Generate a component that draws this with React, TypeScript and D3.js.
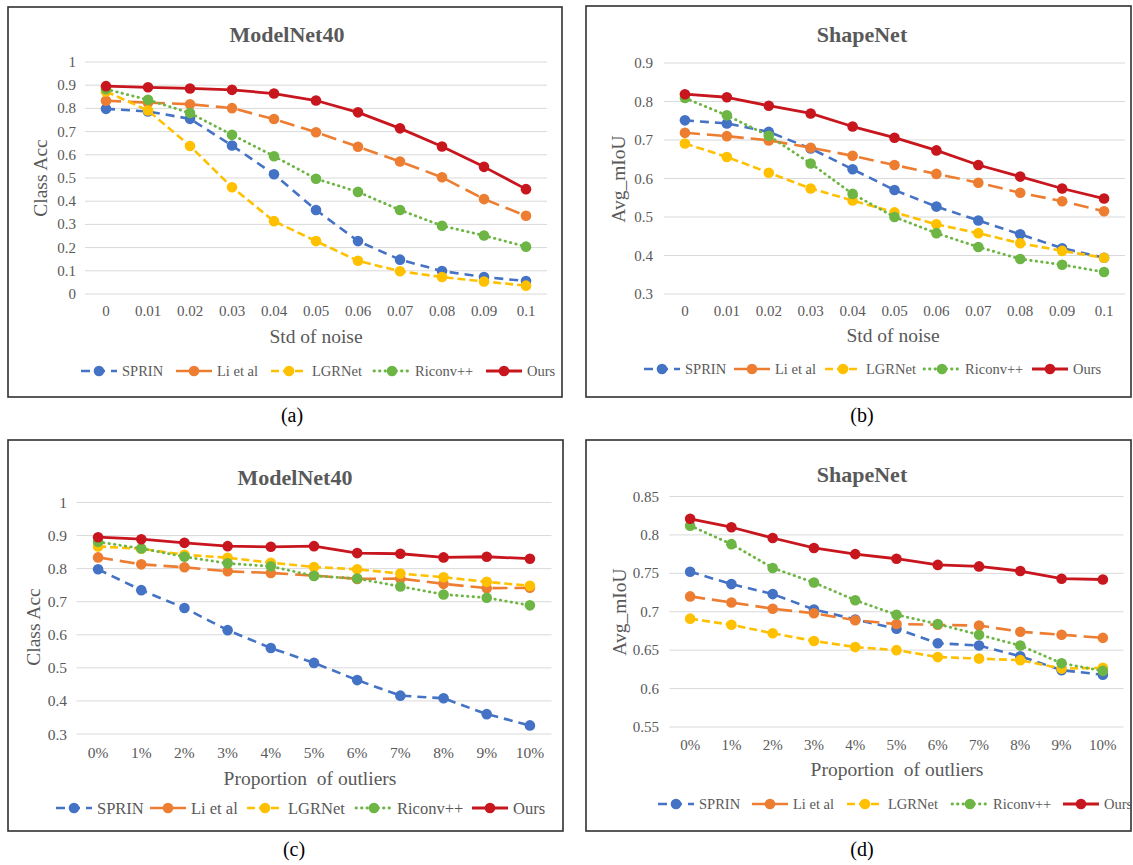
import React from "react";
import * as d3 from "d3";

// ---------- data ----------
const noiseLevels = ["0", "0.01", "0.02", "0.03", "0.04", "0.05", "0.06", "0.07", "0.08", "0.09", "0.1"];
const outlierLevels = ["0%", "1%", "2%", "3%", "4%", "5%", "6%", "7%", "8%", "9%", "10%"];
const seriesNames = ["SPRIN", "Li et al", "LGRNet", "Riconv++", "Ours"];

// (a) ModelNet40, noise
const aSPRIN = [0.798, 0.787, 0.755, 0.640, 0.516, 0.362, 0.228, 0.148, 0.099, 0.073, 0.056];
const aLi = [0.833, 0.825, 0.818, 0.801, 0.754, 0.697, 0.635, 0.571, 0.503, 0.409, 0.337];
const aLGRNet = [0.873, 0.791, 0.638, 0.460, 0.314, 0.228, 0.143, 0.098, 0.073, 0.054, 0.036];
const aRiconv = [0.883, 0.837, 0.780, 0.686, 0.594, 0.497, 0.440, 0.362, 0.294, 0.252, 0.204];
const aOurs = [0.896, 0.891, 0.886, 0.880, 0.864, 0.834, 0.783, 0.714, 0.636, 0.548, 0.452];

// (b) ShapeNet, noise
const bSPRIN = [0.751, 0.743, 0.721, 0.678, 0.624, 0.570, 0.527, 0.491, 0.455, 0.419, 0.394];
const bLi = [0.719, 0.710, 0.699, 0.680, 0.659, 0.635, 0.612, 0.589, 0.563, 0.541, 0.515];
const bLGRNet = [0.691, 0.656, 0.615, 0.574, 0.543, 0.512, 0.481, 0.458, 0.432, 0.412, 0.394];
const bRiconv = [0.809, 0.764, 0.711, 0.639, 0.560, 0.500, 0.458, 0.422, 0.391, 0.376, 0.357];
const bOurs = [0.819, 0.811, 0.789, 0.769, 0.735, 0.706, 0.673, 0.635, 0.605, 0.574, 0.548];

// (c) ModelNet40, outliers
const cSPRIN = [0.798, 0.735, 0.681, 0.614, 0.560, 0.515, 0.463, 0.416, 0.408, 0.360, 0.326];
const cLi = [0.834, 0.813, 0.804, 0.792, 0.787, 0.779, 0.769, 0.770, 0.754, 0.741, 0.742];
const cLGRNet = [0.867, 0.860, 0.842, 0.833, 0.818, 0.805, 0.798, 0.785, 0.774, 0.760, 0.748];
const cRiconv = [0.881, 0.861, 0.836, 0.816, 0.807, 0.778, 0.770, 0.746, 0.722, 0.712, 0.689];
const cOurs = [0.895, 0.889, 0.878, 0.868, 0.866, 0.868, 0.847, 0.845, 0.834, 0.836, 0.830];

// (d) ShapeNet, outliers
const dSPRIN = [0.752, 0.736, 0.723, 0.703, 0.690, 0.678, 0.659, 0.656, 0.642, 0.624, 0.618];
const dLi = [0.720, 0.712, 0.704, 0.698, 0.689, 0.684, 0.683, 0.682, 0.674, 0.670, 0.666];
const dLGRNet = [0.691, 0.683, 0.672, 0.662, 0.654, 0.650, 0.641, 0.639, 0.637, 0.626, 0.627];
const dRiconv = [0.812, 0.788, 0.757, 0.738, 0.715, 0.696, 0.684, 0.670, 0.656, 0.633, 0.623];
const dOurs = [0.821, 0.810, 0.796, 0.783, 0.775, 0.769, 0.761, 0.759, 0.753, 0.743, 0.742];

// tick labels
const yTicksA = ["0", "0.1", "0.2", "0.3", "0.4", "0.5", "0.6", "0.7", "0.8", "0.9", "1"];
const yTicksB = ["0.3", "0.4", "0.5", "0.6", "0.7", "0.8", "0.9"];
const yTicksC = ["0.3", "0.4", "0.5", "0.6", "0.7", "0.8", "0.9", "1"];
const yTicksD = ["0.55", "0.6", "0.65", "0.7", "0.75", "0.8", "0.85"];

// ---------- styles ----------
const FONT = "'Liberation Serif', 'Times New Roman', serif";
const GRAY = "#595959";
const seriesStyles = [
  { color: "#4472C4", dash: "9 6", width: 2.6, cap: "butt" },
  { color: "#ED7D31", dash: "15 7", width: 2.6, cap: "butt" },
  { color: "#FFC000", dash: "8 4", width: 2.6, cap: "butt" },
  { color: "#6DB544", dash: "0.5 5", width: 2.8, cap: "round" },
  { color: "#C8161E", dash: null, width: 2.8, cap: "butt" },
];

type PanelCfg = {
  box: { x: number; y: number; w: number; h: number };
  title: string;
  titleX: number;
  titleY: number;
  categories: string[];
  series: number[][];
  yTicks: string[];
  xRange: [number, number];
  yRange: [number, number];
  yLabelRight: number;
  tickFont: number;
  xLabelY: number;
  xTitle: string;
  xTitleX: number;
  xTitleY: number;
  yTitle: string;
  yTitleX: number;
  yTitleY: number;
  legendY: number;
  legendTextX: number[];
  legendFont: number;
  caption: string;
  captionX: number;
  captionY: number;
};

function Panel({ cfg }: { cfg: PanelCfg }) {
  const x = d3.scalePoint<string>().domain(cfg.categories).range(cfg.xRange).padding(0.5);
  const yVals = cfg.yTicks.map((t) => +t);
  const y = d3
    .scaleLinear()
    .domain([d3.min(yVals) as number, d3.max(yVals) as number])
    .range(cfg.yRange);
  const line = d3
    .line<number>()
    .x((_, i) => x(cfg.categories[i]) as number)
    .y((v) => y(v));

  return (
    <g>
      <rect
        x={cfg.box.x}
        y={cfg.box.y}
        width={cfg.box.w}
        height={cfg.box.h}
        fill="#fff"
        stroke="#303030"
        strokeWidth={1.6}
      />
      <text
        x={cfg.titleX}
        y={cfg.titleY}
        textAnchor="middle"
        fontFamily={FONT}
        fontWeight="bold"
        fontSize={22}
        fill={GRAY}
      >
        {cfg.title}
      </text>
      {cfg.yTicks.map((t) => (
        <g key={t}>
          <line
            x1={cfg.xRange[0]}
            x2={cfg.xRange[1]}
            y1={y(+t)}
            y2={y(+t)}
            stroke="#D9D9D9"
            strokeWidth={1}
          />
          <text
            x={cfg.yLabelRight}
            y={y(+t)}
            textAnchor="end"
            dominantBaseline="central"
            fontFamily={FONT}
            fontSize={cfg.tickFont}
            fill={GRAY}
          >
            {t}
          </text>
        </g>
      ))}
      {cfg.categories.map((c) => (
        <text
          key={c}
          x={x(c) as number}
          y={cfg.xLabelY}
          textAnchor="middle"
          dominantBaseline="central"
          fontFamily={FONT}
          fontSize={cfg.tickFont}
          fill={GRAY}
        >
          {c}
        </text>
      ))}
      <text
        x={cfg.xTitleX}
        y={cfg.xTitleY}
        textAnchor="middle"
        dominantBaseline="central"
        fontFamily={FONT}
        fontSize={19.5}
        fill={GRAY}
        style={{ whiteSpace: "pre" }}
      >
        {cfg.xTitle}
      </text>
      <text
        transform={`translate(${cfg.yTitleX},${cfg.yTitleY}) rotate(-90)`}
        textAnchor="middle"
        dominantBaseline="central"
        fontFamily={FONT}
        fontSize={19.5}
        fill={GRAY}
      >
        {cfg.yTitle}
      </text>
      {cfg.series.map((vals, si) => {
        const st = seriesStyles[si];
        return (
          <g key={si}>
            <path
              d={line(vals) as string}
              fill="none"
              stroke={st.color}
              strokeWidth={st.width}
              strokeDasharray={st.dash ?? undefined}
              strokeLinecap={st.cap as any}
              strokeLinejoin="round"
            />
            {vals.map((v, i) => (
              <circle key={i} cx={x(cfg.categories[i]) as number} cy={y(v)} r={5.3} fill={st.color} />
            ))}
          </g>
        );
      })}
      {seriesNames.map((name, si) => {
        const st = seriesStyles[si];
        const tx = cfg.legendTextX[si];
        const sx = tx - 41;
        return (
          <g key={name}>
            <line
              x1={sx}
              x2={sx + 36}
              y1={cfg.legendY}
              y2={cfg.legendY}
              stroke={st.color}
              strokeWidth={st.width}
              strokeDasharray={st.dash ?? undefined}
              strokeLinecap={st.cap as any}
            />
            <circle cx={sx + 18} cy={cfg.legendY} r={5.3} fill={st.color} />
            <text
              x={tx}
              y={cfg.legendY}
              dominantBaseline="central"
              fontFamily={FONT}
              fontSize={cfg.legendFont}
              fill={GRAY}
            >
              {name}
            </text>
          </g>
        );
      })}
      <text
        x={cfg.captionX}
        y={cfg.captionY}
        textAnchor="middle"
        fontFamily={FONT}
        fontSize={20}
        fill="#000"
      >
        {cfg.caption}
      </text>
    </g>
  );
}

const panels: PanelCfg[] = [
  {
    box: { x: 8, y: 7, w: 554, h: 390 },
    title: "ModelNet40",
    titleX: 287,
    titleY: 42,
    categories: noiseLevels,
    series: [aSPRIN, aLi, aLGRNet, aRiconv, aOurs],
    yTicks: yTicksA,
    xRange: [85, 547],
    yRange: [294, 62],
    yLabelRight: 76,
    tickFont: 15,
    xLabelY: 311,
    xTitle: "Std of noise",
    xTitleX: 316,
    xTitleY: 336,
    yTitle: "Class Acc",
    yTitleX: 40,
    yTitleY: 178,
    legendY: 371,
    legendTextX: [122, 217, 312, 415, 527],
    legendFont: 14.5,
    caption: "(a)",
    captionX: 292,
    captionY: 422,
  },
  {
    box: { x: 586, y: 6, w: 545, h: 391 },
    title: "ShapeNet",
    titleX: 862,
    titleY: 42,
    categories: noiseLevels,
    series: [bSPRIN, bLi, bLGRNet, bRiconv, bOurs],
    yTicks: yTicksB,
    xRange: [664, 1125],
    yRange: [294, 63],
    yLabelRight: 653,
    tickFont: 15,
    xLabelY: 311,
    xTitle: "Std of noise",
    xTitleX: 893,
    xTitleY: 335,
    yTitle: "Avg_mIoU",
    yTitleX: 618,
    yTitleY: 179,
    legendY: 369,
    legendTextX: [685, 775, 866, 965, 1073],
    legendFont: 14.5,
    caption: "(b)",
    captionX: 862,
    captionY: 422,
  },
  {
    box: { x: 8, y: 440, w: 555, h: 391 },
    title: "ModelNet40",
    titleX: 295,
    titleY: 485,
    categories: outlierLevels,
    series: [cSPRIN, cLi, cLGRNet, cRiconv, cOurs],
    yTicks: yTicksC,
    xRange: [76.5, 551.5],
    yRange: [734, 502.5],
    yLabelRight: 67,
    tickFont: 15.5,
    xLabelY: 752,
    xTitle: "Proportion  of outliers",
    xTitleX: 310,
    xTitleY: 778,
    yTitle: "Class Acc",
    yTitleX: 33,
    yTitleY: 627,
    legendY: 808,
    legendTextX: [97, 191, 288, 397, 513],
    legendFont: 16.5,
    caption: "(c)",
    captionX: 294,
    captionY: 856,
  },
  {
    box: { x: 586, y: 440, w: 545, h: 391 },
    title: "ShapeNet",
    titleX: 862,
    titleY: 482,
    categories: outlierLevels,
    series: [dSPRIN, dLi, dLGRNet, dRiconv, dOurs],
    yTicks: yTicksD,
    xRange: [669.5, 1123.5],
    yRange: [727, 496.5],
    yLabelRight: 659,
    tickFont: 15,
    xLabelY: 745,
    xTitle: "Proportion  of outliers",
    xTitleX: 897,
    xTitleY: 769,
    yTitle: "Avg_mIoU",
    yTitleX: 619,
    yTitleY: 612,
    legendY: 804,
    legendTextX: [699, 793, 888, 993, 1104],
    legendFont: 14.5,
    caption: "(d)",
    captionX: 862,
    captionY: 856,
  },
];

export default function App() {
  return (
    <svg
      width={1133}
      height={865}
      viewBox="0 0 1133 865"
      style={{ position: "absolute", left: 0, top: 0, display: "block", background: "#fff" }}
    >
      <rect x={0} y={0} width={1133} height={865} fill="#fff" />
      {panels.map((p, i) => (
        <Panel key={i} cfg={p} />
      ))}
    </svg>
  );
}
